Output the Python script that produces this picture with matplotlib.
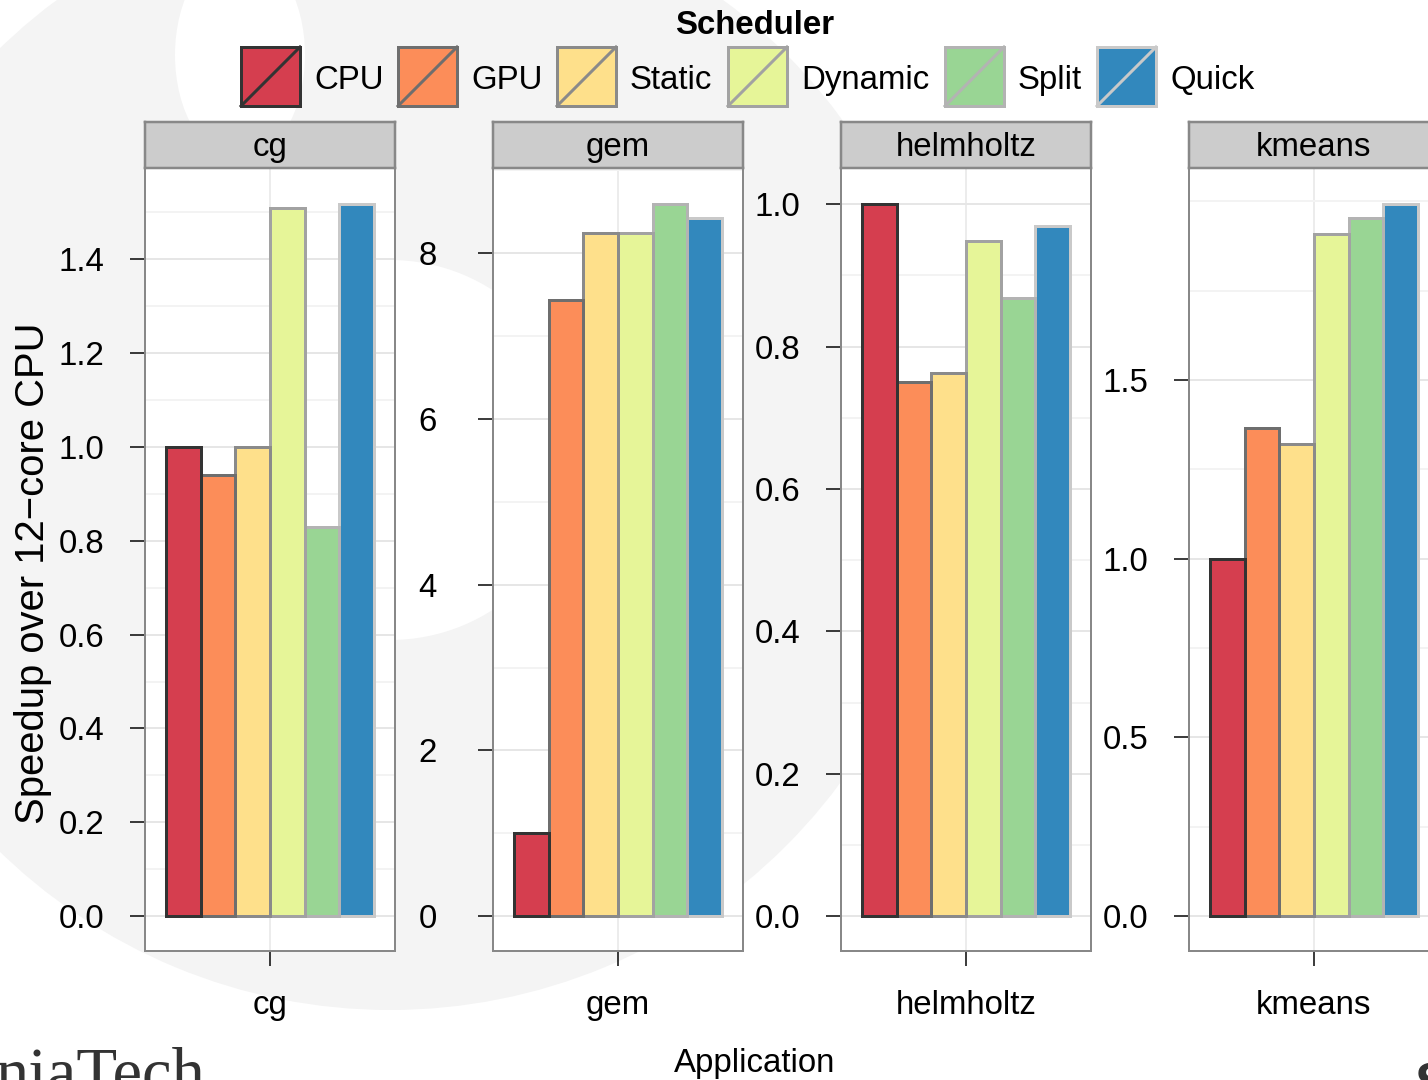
import matplotlib
matplotlib.use('Agg')
import matplotlib.pyplot as plt
import numpy as np
from matplotlib.patches import Rectangle, Wedge, Ellipse
from matplotlib.ticker import FixedLocator, MultipleLocator

plt.rcParams['font.family'] = ['Liberation Sans', 'DejaVu Sans']

# ---- data (speedup over 12-core CPU) ----
apps = ['cg', 'gem', 'helmholtz', 'kmeans']
schedulers = ['CPU', 'GPU', 'Static', 'Dynamic', 'Split', 'Quick']
cg = [1.0, 0.94, 1.0, 1.51, 0.83, 1.517]
gem = [1.0, 7.44, 8.24, 8.24, 8.59, 8.42]
helmholtz = [1.0, 0.75, 0.763, 0.949, 0.869, 0.969]
kmeans = [1.0, 1.367, 1.322, 1.908, 1.955, 1.992]
values = [cg, gem, helmholtz, kmeans]
yticks = [[0.0, 0.2, 0.4, 0.6, 0.8, 1.0, 1.2, 1.4],
          [0, 2, 4, 6, 8],
          [0.0, 0.2, 0.4, 0.6, 0.8, 1.0],
          [0.0, 0.5, 1.0, 1.5]]
ytick_fmt = ['{:.1f}', '{:.0f}', '{:.1f}', '{:.1f}']

# ---- style ----
fills = ['#D53E4F', '#FC8D59', '#FEE08B', '#E6F598', '#99D594', '#3288BD']
edges = ['#333333', '#6e6e6e', '#8a8a8a', '#a2a2a2', '#b3b3b3', '#c9c9c9']
W, H = 1428, 1080
PX = 0.72                    # 1 px in points at dpi 100
FS = 33 * PX                 # main font size

fig = plt.figure(figsize=(W / 100, H / 100), dpi=100)
fig.patch.set_facecolor('white')

# background layer in pixel coordinates (watermark + logo text)
bg = fig.add_axes([0, 0, 1, 1], zorder=-5)
bg.set_xlim(0, W)
bg.set_ylim(H, 0)
bg.axis('off')
bg.add_patch(Wedge((390, 450), 560, 0, 360, width=370, color='#f4f4f4', lw=0))
bg.add_patch(Ellipse((240, 55), 130, 210, color='white', lw=0))
bg.text(205, 1094, 'niaTech', ha='right', va='baseline', fontsize=48,
        family=['Liberation Serif', 'DejaVu Serif'], color='#333333')
bg.text(1414, 1102, 'S', ha='left', va='baseline', fontsize=40,
        fontweight='bold', color='#333333')


def px_rect(x0, y0, x1, y1):
    """pixel box (top-left origin) -> figure fraction [l, b, w, h]"""
    return [x0 / W, 1 - y1 / H, (x1 - x0) / W, (y1 - y0) / H]


panel_left = [145, 493, 841, 1189]
panel_w = 250
strip_top, strip_bot, panel_bot = 122, 168, 951
label_pad = [26, 41, 26, 26]
nb = len(schedulers)
xpos = -0.5 + (np.arange(nb) + 0.5) / nb

for k, app in enumerate(apps):
    x0 = panel_left[k]
    ax = fig.add_axes(px_rect(x0, strip_bot, x0 + panel_w, panel_bot))
    ax.set_facecolor('white')
    vals = values[k]
    vmax = max(vals)
    for i in range(nb):
        ax.bar(xpos[i], vals[i], width=1 / nb, color=fills[i],
               edgecolor=edges[i], linewidth=3 * PX, zorder=10 - i)
    ax.set_xlim(-0.6, 0.6)
    ax.set_ylim(-0.049 * vmax, 1.051 * vmax)

    # grid
    ax.set_axisbelow(True)
    ax.yaxis.set_major_locator(FixedLocator(yticks[k]))
    step = yticks[k][1] - yticks[k][0]
    ax.yaxis.set_minor_locator(MultipleLocator(step / 2))
    ax.grid(True, which='major', axis='y', color='#e6e6e6', lw=2 * PX)
    ax.grid(True, which='minor', axis='y', color='#f3f3f3', lw=2 * PX)
    ax.axvline(0, color='#e6e6e6', lw=1.5 * PX, zorder=0)

    ax.set_yticklabels([ytick_fmt[k].format(t) for t in yticks[k]],
                       fontsize=FS)
    ax.tick_params(axis='y', which='major', direction='out', length=15 * PX,
                   width=1.5 * PX, pad=label_pad[k] * PX, colors='black')
    ax.tick_params(axis='y', which='minor', length=0)
    ax.set_xticks([0])
    ax.set_xticklabels([app], fontsize=FS)
    ax.tick_params(axis='x', direction='out', length=15 * PX,
                   width=1.5 * PX, pad=24 * PX)
    for sp in ax.spines.values():
        sp.set_color('#888888')
        sp.set_linewidth(2 * PX)

    # strip
    st = fig.add_axes(px_rect(x0, strip_top, x0 + panel_w, strip_bot))
    st.set_facecolor('#cccccc')
    st.set_xticks([])
    st.set_yticks([])
    for sp in st.spines.values():
        sp.set_color('#888888')
        sp.set_linewidth(2.5 * PX)
    st.text(0.5, 0.45, app, ha='center', va='center', fontsize=FS,
            transform=st.transAxes)

# ---- legend (top) ----
key_left = [241, 398, 557, 728, 945, 1097]
key_top, key_size = 47, 59
for i, name in enumerate(schedulers):
    kx = key_left[i]
    bg.add_patch(Rectangle((kx, key_top), key_size, key_size,
                           facecolor=fills[i], edgecolor=edges[i],
                           lw=3 * PX, zorder=3))
    bg.plot([kx, kx + key_size], [key_top + key_size, key_top],
            color=edges[i], lw=3 * PX, zorder=4)
    bg.text(kx + key_size + 14, 89, name, ha='left', va='baseline',
            fontsize=FS, zorder=4)
bg.text(755, 34, 'Scheduler', ha='center', va='baseline', fontsize=FS,
        fontweight='bold')

# ---- axis titles ----
bg.text(33, 573, 'Speedup over 12\u2212core CPU', rotation=90, ha='center',
        va='center', fontsize=40 * PX)
bg.text(755, 1072, 'Application', ha='center', va='baseline', fontsize=FS)

fig.savefig('out.png', dpi=100)
